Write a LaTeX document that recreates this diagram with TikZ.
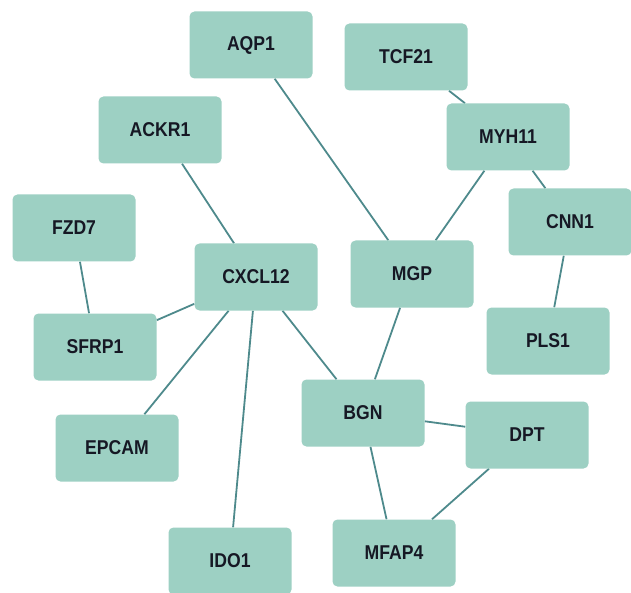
\documentclass[tikz,border=0pt]{standalone}
\usepackage{fontspec}
\setmainfont{Liberation Sans}
\usetikzlibrary{backgrounds}
\definecolor{boxfill}{RGB}{157,208,195}
\definecolor{edgecol}{RGB}{78,138,140}
\definecolor{txtcol}{RGB}{22,24,36}
\newcommand{\glab}[1]{\scalebox{0.88}[1]{#1}}
\tikzset{
  gene/.style={rectangle, rounded corners=5pt, fill=boxfill, draw=none,
    minimum width=123pt, minimum height=67pt, inner sep=0pt,
    font=\bfseries\fontsize{20}{22}\selectfont, text=txtcol},
  link/.style={draw=edgecol, line width=1.8pt}
}
\begin{document}
\begin{tikzpicture}[x=1pt,y=-1pt]
\useasboundingbox (0,0) rectangle (631,593);
\node[gene] (aqp1)   at (251,45)  {\glab{AQP1}};
\node[gene] (tcf21)  at (406,57)  {\glab{TCF21}};
\node[gene] (ackr1)  at (160,130) {\glab{ACKR1}};
\node[gene] (myh11)  at (508,137) {\glab{MYH11}};
\node[gene] (fzd7)   at (74,228)  {\glab{FZD7}};
\node[gene] (cnn1)   at (570,222) {\glab{CNN1}};
\node[gene] (cxcl12) at (256,277) {\glab{CXCL12}};
\node[gene] (mgp)    at (412,274) {\glab{MGP}};
\node[gene] (sfrp1)  at (95,347)  {\glab{SFRP1}};
\node[gene] (pls1)   at (548,341) {\glab{PLS1}};
\node[gene] (bgn)    at (363,413) {\glab{BGN}};
\node[gene] (dpt)    at (527,435) {\glab{DPT}};
\node[gene] (epcam)  at (117,448) {\glab{EPCAM}};
\node[gene] (ido1)   at (230,561) {\glab{IDO1}};
\node[gene] (mfap4)  at (394,553) {\glab{MFAP4}};
\begin{scope}[on background layer]
\draw[link] (aqp1) -- (mgp);
\draw[link] (tcf21) -- (myh11);
\draw[link] (myh11) -- (cnn1);
\draw[link] (myh11) -- (mgp);
\draw[link] (cnn1) -- (pls1);
\draw[link] (ackr1) -- (cxcl12);
\draw[link] (fzd7) -- (sfrp1);
\draw[link] (sfrp1) -- (cxcl12);
\draw[link] (cxcl12) -- (epcam);
\draw[link] (cxcl12) -- (ido1);
\draw[link] (cxcl12) -- (bgn);
\draw[link] (mgp) -- (bgn);
\draw[link] (bgn) -- (dpt);
\draw[link] (bgn) -- (mfap4);
\draw[link] (dpt) -- (mfap4);
\end{scope}
\end{tikzpicture}
\end{document}
